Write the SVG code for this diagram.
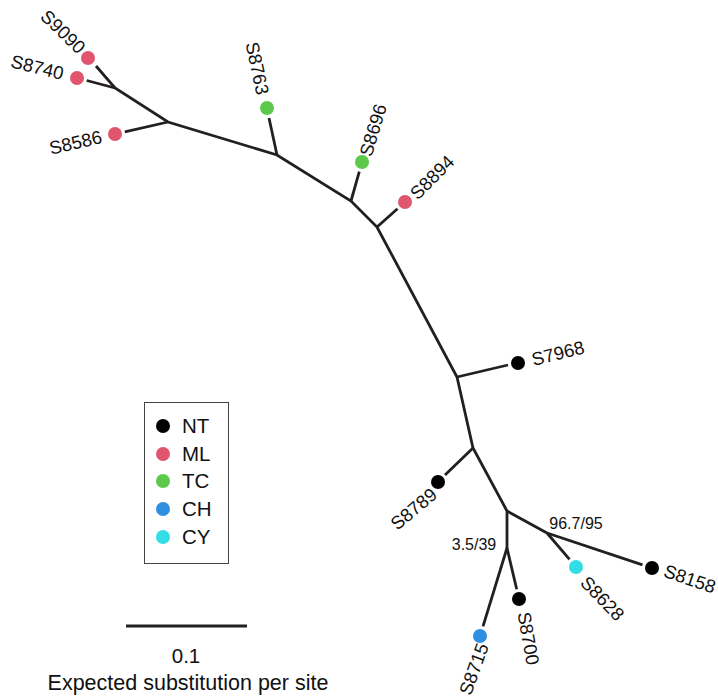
<svg xmlns="http://www.w3.org/2000/svg" width="718" height="700" viewBox="0 0 718 700">
<style>
.e{stroke:#231f20;stroke-width:2.8;fill:none;stroke-linecap:butt}
.t{font-family:"Liberation Sans",Arial,sans-serif;fill:#111}
.lf{font-size:18.5px}
.bs{font-size:16px;text-anchor:middle}
.lg{font-size:20.5px}
.NT{fill:#000}.ML{fill:#e0566e}.TC{fill:#5cc94a}.CH{fill:#2f8fe0}.CY{fill:#33dde6}
</style>
<rect width="718" height="700" fill="#fff"/>
<g id="connectors">
<polyline class="e" points="96,66 115,88 168,122 277,155 351,201 377,227 457,377 473,448 507,511 507,548"/>
<line class="e" x1="86.7" y1="80.5" x2="115" y2="88"/>
<line class="e" x1="124.8" y1="131.8" x2="168" y2="122"/>
<line class="e" x1="269" y1="118" x2="277" y2="155"/>
<line class="e" x1="359.3" y1="171.6" x2="351" y2="201"/>
<line class="e" x1="397.5" y1="208.7" x2="377" y2="227"/>
<line class="e" x1="508" y1="365" x2="457" y2="377"/>
<line class="e" x1="445" y1="475" x2="473" y2="448"/>
<line class="e" x1="507" y1="511" x2="547" y2="533"/>
<line class="e" x1="642.5" y1="564.8" x2="547" y2="533"/>
<line class="e" x1="569.5" y1="559.4" x2="547" y2="533"/>
<line class="e" x1="516.7" y1="589.3" x2="507" y2="548"/>
<line class="e" x1="483" y1="626.4" x2="507" y2="548"/>
</g>
<g id="S9090"><circle class="ML" cx="88" cy="58" r="7"/><text class="t lf" transform="translate(44,13) rotate(44)" dy="0.36em">S9090</text></g>
<g id="S8740"><circle class="ML" cx="77" cy="78" r="7"/><text class="t lf" transform="translate(11.4,60.6) rotate(14)" dy="0.36em">S8740</text></g>
<g id="S8586"><circle class="ML" cx="115" cy="134" r="7"/><text class="t lf" transform="translate(49.5,148.3) rotate(-13)" dy="0.36em">S8586</text></g>
<g id="S8763"><circle class="TC" cx="267" cy="108" r="7"/><text class="t lf" transform="translate(252,42) rotate(78)" dy="0.36em">S8763</text></g>
<g id="S8696"><circle class="TC" cx="362" cy="162" r="7"/><text class="t lf" transform="translate(365,155.5) rotate(-73)" dy="0.36em">S8696</text></g>
<g id="S8894"><circle class="ML" cx="405" cy="202" r="7"/><text class="t lf" transform="translate(413,196) rotate(-45)" dy="0.36em">S8894</text></g>
<g id="S7968"><circle class="NT" cx="518" cy="363" r="7"/><text class="t lf" transform="translate(532,359.5) rotate(-14)" dy="0.36em">S7968</text></g>
<g id="S8789"><circle class="NT" cx="438" cy="482" r="7"/><text class="t lf" transform="translate(393,526) rotate(-40)" dy="0.36em">S8789</text></g>
<g id="S8158"><circle class="NT" cx="652" cy="568" r="7"/><text class="t lf" transform="translate(664.6,570) rotate(19)" dy="0.36em">S8158</text></g>
<g id="S8628"><circle class="CY" cx="576" cy="567" r="7"/><text class="t lf" transform="translate(584,579) rotate(46)" dy="0.36em">S8628</text></g>
<g id="S8700"><circle class="NT" cx="519" cy="599" r="7"/><text class="t lf" transform="translate(524,612) rotate(80)" dy="0.36em">S8700</text></g>
<g id="S8715"><circle class="CH" cx="480" cy="636" r="7"/><text class="t lf" transform="translate(464.5,694) rotate(-70)" dy="0.36em">S8715</text></g>
<g id="bootstrap">
<text class="t bs" x="576" y="529">96.7/95</text>
<text class="t bs" x="474" y="550">3.5/39</text>
</g>
<g id="legend">
<rect x="144.5" y="402.5" width="84" height="161" fill="none" stroke="#444" stroke-width="1"/>
<circle class="NT" cx="163" cy="426" r="7"/><text class="t lg" x="182" y="433">NT</text>
<circle class="ML" cx="163" cy="454" r="7"/><text class="t lg" x="182" y="461">ML</text>
<circle class="TC" cx="163" cy="481" r="7"/><text class="t lg" x="182" y="488">TC</text>
<circle class="CH" cx="163" cy="509" r="7"/><text class="t lg" x="182" y="516">CH</text>
<circle class="CY" cx="163" cy="537" r="7"/><text class="t lg" x="182" y="544">CY</text>
</g>
<g id="scale">
<line x1="126" y1="626" x2="247" y2="626" stroke="#231f20" stroke-width="3"/>
<text class="t lg" x="186" y="663" text-anchor="middle">0.1</text>
<text class="t" x="188" y="690" text-anchor="middle" font-size="21.5px">Expected substitution per site</text>
</g>
</svg>
